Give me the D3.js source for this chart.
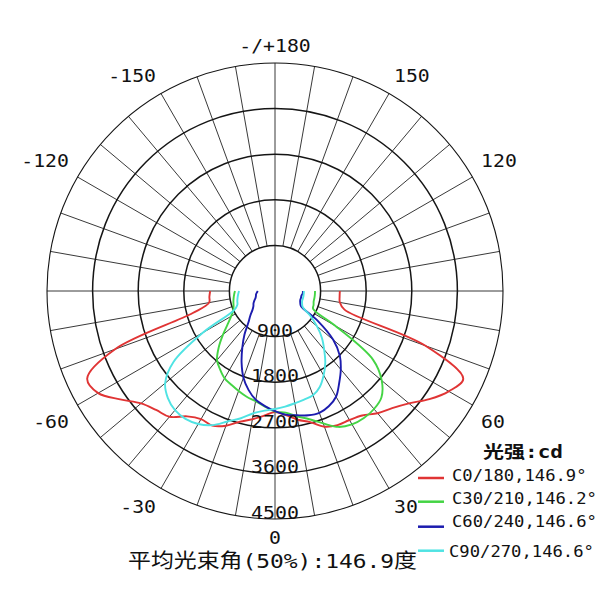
<!DOCTYPE html>
<html><head><meta charset="utf-8">
<script src="https://cdn.jsdelivr.net/npm/d3@7"></script>
<style>html,body{margin:0;padding:0;background:#fff;} svg{display:block;background:#fff}</style>
</head><body>
<svg id="chart" width="600" height="600"></svg>
<script>
// ---- data ----
const angles = [-90,-85,-80,-75,-70,-65,-60,-55,-50,-45,-40,-35,-30,-25,-20,-15,-10,-5,0,5,10,15,20,25,30,35,40,45,50,55,60,65,70,75,80,85,90];
const c0_180  = [1280,1300,1320,1680,3360,4090,4030,3730,3450,3320,3240,3020,2920,2930,2830,2670,2570,2470,2390,2460,2580,2680,2850,2920,2940,3000,3150,3270,3450,3720,3960,4100,3160,1420,1300,1280,1280];
const c30_210 = [790,810,830,850,870,910,1000,1140,1340,1570,1780,1890,1990,2040,2100,2160,2210,2290,2380,2410,2510,2620,2780,2960,3040,3060,3040,2970,2750,2360,1380,830,810,790,790,790,790];
const c60_240 = [340,360,380,390,410,450,490,520,580,690,820,1050,1290,1560,1820,2020,2180,2280,2370,2450,2490,2540,2560,2510,2410,2210,2020,1810,1500,1030,590,550,530,530,530,550,550];
const c90_270 = [710,730,750,770,790,890,1640,2450,2830,2990,3070,3080,3030,2920,2740,2600,2450,2370,2330,2290,2250,2220,2190,2090,1920,1730,1510,1310,1080,850,630,590,570,570,570,570,570];
const seriesNames = ["C0/180,146.9°","C30/210,146.2°","C60/240,146.6°","C90/270,146.6°"];
const seriesColors = ["#e03434","#44d444","#1c1cae","#4fe3e3"];
const ringValues = [900,1800,2700,3600,4500];
const angleTicks = [180,150,120,60,30,0,-30,-60,-120,-150];
const angleTickLabels = ["-/+180","150","120","60","30","0","-30","-60","-120","-150"];
const legendTitle = "光强:cd";
const footerText = "平均光束角(50%):146.9度";

// ---- layout ----
const svg = d3.select("#chart");
const cx = 275, cy = 291, R = 228;
const rScale = d3.scaleLinear().domain([0, 4500]).range([0, R]);
const rad = a => a * Math.PI / 180;
const pt = (a, r) => [cx + r * Math.sin(rad(a)), cy + r * Math.cos(rad(a))];
const MONO = "'DejaVu Sans Mono', 'Noto Sans CJK SC', monospace";

function label(x, y, txt, o) {
  const t = svg.append("text")
    .attr("transform", `translate(${x},${y}) scale(${o.sx || 1},1)`)
    .attr("text-anchor", o.anchor || "middle")
    .attr("font-family", o.family || MONO)
    .attr("font-size", o.size)
    .attr("fill", "#111")
    .text(txt);
  if (o.weight) t.attr("font-weight", o.weight);
  if (o.len) t.attr("textLength", o.len).attr("lengthAdjust", "spacingAndGlyphs");
  return t;
}

// grid: spokes every 10 degrees
const spokes = d3.range(-170, 181, 10);
svg.append("g").selectAll("line").data(spokes).join("line")
  .attr("x1", d => pt(d, (d === 0 || d === 180) ? 0 : rScale(ringValues[0]))[0])
  .attr("y1", d => pt(d, (d === 0 || d === 180) ? 0 : rScale(ringValues[0]))[1])
  .attr("x2", d => pt(d, R)[0])
  .attr("y2", d => pt(d, R)[1])
  .attr("stroke", "#222").attr("stroke-width", 0.9);

// rings
svg.append("g").selectAll("circle").data(ringValues).join("circle")
  .attr("cx", cx).attr("cy", cy).attr("r", d => rScale(d))
  .attr("fill", "none").attr("stroke", "#151515")
  .attr("stroke-width", (d, i) => i === ringValues.length - 1 ? 1.1 : 1.5);

// curves
const series = [c0_180, c30_210, c60_240, c90_270];
const line = d3.lineRadial()
  .angle(d => Math.PI - rad(d[0]))
  .radius(d => rScale(d[1]))
  .curve(d3.curveCatmullRom.alpha(0.5));
series.forEach((vals, i) => {
  svg.append("path")
    .datum(angles.map((a, j) => [a, vals[j]]))
    .attr("transform", `translate(${cx},${cy})`)
    .attr("d", line)
    .attr("fill", "none")
    .attr("stroke", seriesColors[i])
    .attr("stroke-width", 1.9)
    .attr("stroke-linejoin", "round");
});

// ring labels
ringValues.forEach(v => {
  label(cx, cy + rScale(v), String(v), { size: 17, sx: 1.17 });
});

// angle labels
angleTicks.forEach((a, i) => {
  const s = Math.sin(rad(a)), c = Math.cos(rad(a));
  const sx = Math.abs(s) < 0.01 ? 0 : Math.sign(s);
  const x = cx + 238 * s;
  const yc = cy + 246 * c + 10 * Math.sign(c) * s * s;
  const anchor = sx === 0 ? "middle" : (sx > 0 ? "start" : "end");
  label(sx === 0 ? cx : x, yc + 6.6, angleTickLabels[i], { size: 18, sx: 1.1, anchor });
});

// legend
label(523, 458, legendTitle, { size: 17, weight: "bold", len: 80 });
const rowText = [480.7, 504, 526.7, 557.3];
const rowLine = [478, 501.7, 526.7, 550.7];
const rowX = [452, 452, 452, 449];
seriesNames.forEach((n, i) => {
  svg.append("line").attr("x1", 418).attr("x2", 444)
    .attr("y1", rowLine[i]).attr("y2", rowLine[i])
    .attr("stroke", seriesColors[i]).attr("stroke-width", 2.5);
  label(rowX[i], rowText[i], n, { size: 15.5, sx: 1.11, anchor: "start" });
});

// footer
label(272.5, 568, footerText, { size: 20, len: 289 });
</script>
</body></html>
